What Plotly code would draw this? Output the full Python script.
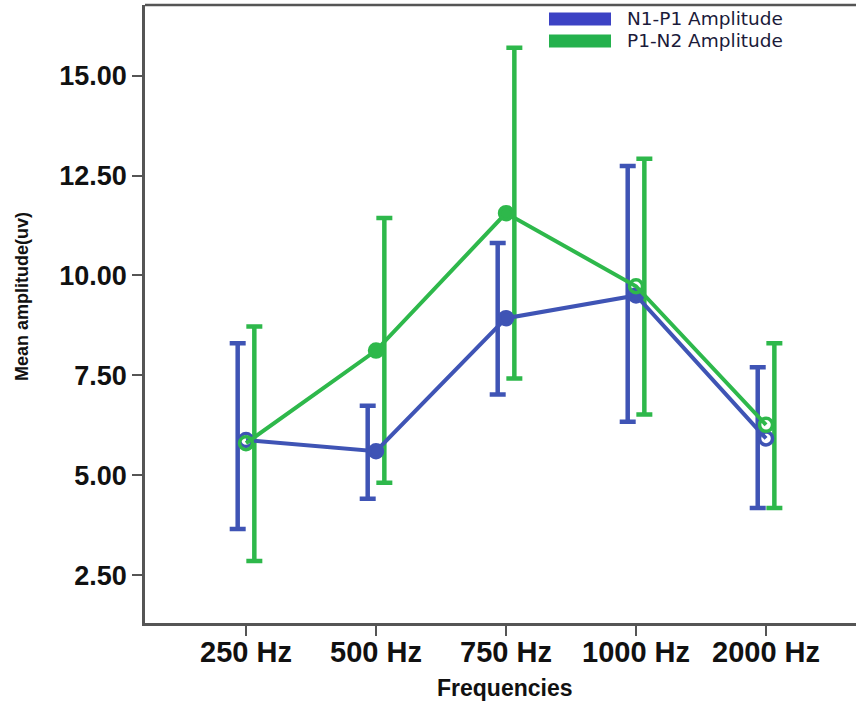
import numpy as np
import plotly.graph_objects as go

# Frequencies tested and mean amplitudes with their 95% CI limits
frequencies = ["250 Hz", "500 Hz", "750 Hz", "1000 Hz", "2000 Hz"]

n1p1_mean = [5.88, 5.60, 8.93, 9.50, 5.92]
n1p1_upper = [8.30, 6.74, 10.81, 12.74, 7.70]
n1p1_lower = [3.65, 4.41, 7.02, 6.34, 4.18]

p1n2_mean = [5.80, 8.12, 11.56, 9.73, 6.26]
p1n2_upper = [8.72, 11.44, 15.70, 12.92, 8.30]
p1n2_lower = [2.85, 4.81, 7.42, 6.52, 4.18]

y_ticks = [2.5, 5.0, 7.5, 10.0, 12.5, 15.0]

BLUE = "#3f54b5"
GREEN = "#2eb84b"
FRAME = "#555555"

x = np.arange(len(frequencies))
dodge = 0.064

fig = go.Figure()


def add_ci(mean, upper, lower, color, shift):
    mean = np.array(mean)
    upper = np.array(upper)
    lower = np.array(lower)
    # confidence interval bars, dodged sideways
    fig.add_trace(go.Scatter(
        x=x + shift, y=mean, mode="markers",
        marker=dict(size=1, color="rgba(0,0,0,0)"),
        error_y=dict(type="data", symmetric=False,
                     array=upper - mean, arrayminus=mean - lower,
                     color=color, thickness=4.5, width=8),
        showlegend=False, hoverinfo="skip",
    ))


def add_line(mean, color, symbols):
    fig.add_trace(go.Scatter(
        x=x, y=mean, mode="lines+markers",
        line=dict(color=color, width=4),
        marker=dict(size=13, color=color, symbol=symbols,
                    line=dict(color=color, width=3.5)),
        showlegend=False,
    ))


blue_sym = ["circle-open", "circle", "circle", "circle", "circle-open"]
green_sym = ["circle-open", "circle", "circle", "circle-open", "circle-open"]

add_ci(n1p1_mean, n1p1_upper, n1p1_lower, BLUE, -dodge)
add_ci(p1n2_mean, p1n2_upper, p1n2_lower, GREEN, dodge)
add_line(n1p1_mean, BLUE, blue_sym)
add_line(p1n2_mean, GREEN, green_sym)

# legend drawn as colour patches with labels
legend_items = [("N1-P1 Amplitude", "#3c42c4", 19), ("P1-N2 Amplitude", "#24b14d", 41)]
shapes = []
annotations = []
for label, col, yc in legend_items:
    shapes.append(dict(type="rect", xref="paper", yref="paper",
                       x0=(549 - 145) / 711, x1=(611 - 145) / 711,
                       y0=(623 - yc - 6.5) / 618, y1=(623 - yc + 6.5) / 618,
                       fillcolor=col, line=dict(width=0)))
    annotations.append(dict(text=label, xref="paper", yref="paper",
                            x=(625 - 145) / 711, y=(623 - yc) / 618,
                            xanchor="left", yanchor="middle", showarrow=False,
                            font=dict(family="DejaVu Sans", size=18.5, color="#1b1b3a")))

# top border of the frame
shapes.append(dict(type="line", xref="paper", yref="paper", x0=0, x1=1, y0=1, y1=1,
                   line=dict(color=FRAME, width=2.5)))

annotations.append(dict(text="<b>Mean amplitude(uv)</b>", xref="paper", yref="paper",
                        x=(22 - 145) / 711, y=(623 - 297) / 618, textangle=-90,
                        showarrow=False, xanchor="center", yanchor="middle",
                        font=dict(family="Liberation Sans", size=18, color="#111111")))
annotations.append(dict(text="<b>Frequencies</b>", xref="paper", yref="paper",
                        x=(505 - 145) / 711, y=(623 - 688) / 618,
                        showarrow=False, xanchor="center", yanchor="middle",
                        font=dict(family="Liberation Sans", size=23, color="#111111")))

fig.update_layout(
    width=856, height=704,
    margin=dict(l=145, r=0, t=5, b=81),
    paper_bgcolor="white", plot_bgcolor="white",
    shapes=shapes, annotations=annotations,
    xaxis=dict(range=[-0.777, 4.692], tickvals=list(x), ticktext=frequencies,
               showgrid=False, zeroline=False, showline=True, linecolor=FRAME,
               linewidth=2.5, ticks="outside", ticklen=10, tickwidth=2,
               tickcolor=FRAME, ticklabelstandoff=-9,
               tickfont=dict(family="Liberation Sans", size=29, color="#111111",
                             weight="bold")),
    yaxis=dict(range=[1.3, 16.77], tickvals=y_ticks,
               ticktext=[f"{v:.2f}" for v in y_ticks],
               showgrid=False, zeroline=False, showline=True, linecolor=FRAME,
               linewidth=2.5, ticks="outside", ticklen=10, tickwidth=2,
               tickcolor=FRAME,
               tickfont=dict(family="Liberation Sans", size=27, color="#111111",
                             weight="bold")),
)

fig.write_html("out.html")
